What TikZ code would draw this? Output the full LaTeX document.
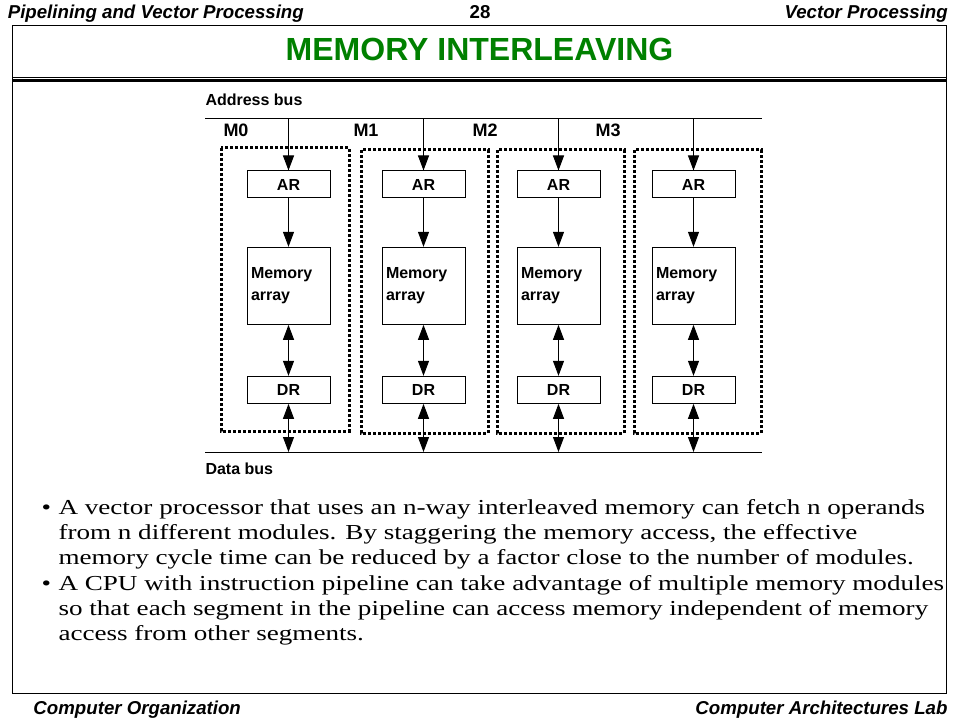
\documentclass[tikz,border=0pt]{standalone}
\usepackage{fontspec}
\setmainfont{Liberation Serif}
\setsansfont{Liberation Sans}
\newfontfamily\bodyfont{Liberation Serif}[FakeStretch=1.27]
\usepackage{tikz}
\usetikzlibrary{arrows.meta}
\usetikzlibrary{positioning}
\definecolor{titlegreen}{RGB}{0,128,0}

\begin{document}
\begin{tikzpicture}[x=0.75pt,y=-0.75pt,>={Triangle[length=11.25pt,width=8.25pt]},
				node distance=101.25pt,line width=0.75pt,
				reg/.style={draw,minimum width=62.25pt,minimum height=20.25pt,inner sep=0pt,
					font=\sffamily\bfseries\fontsize{12pt}{14pt}\selectfont},
				memarr/.style={reg,minimum height=57.75pt,text width=56.25pt,inner xsep=3pt,align=left,
					font=\sffamily\bfseries\fontsize{12pt}{16.5pt}\selectfont},
				modbox/.style={line width=2.25pt,dash pattern=on 2.25pt off 1.5pt},
				buslabel/.style={inner sep=0pt,anchor=base west,font=\sffamily\bfseries\fontsize{12pt}{14pt}\selectfont},
				modlabel/.style={inner sep=0pt,anchor=base west,font=\sffamily\bfseries\fontsize{13.5pt}{16pt}\selectfont},
				headtext/.style={inner sep=0pt,font=\sffamily\bfseries\itshape\fontsize{14pt}{16pt}\selectfont},
				bodytext/.style={inner sep=0pt,anchor=base west,align=left,font=\bodyfont\fontsize{16pt}{19pt}\selectfont}]
				\useasboundingbox (0,0) rectangle (960,720);

				% header, frame and footer
				\node[headtext,anchor=base west] (hleft) at (7.3,18.3) {Pipelining and Vector Processing};
				\node[headtext,anchor=base,font=\sffamily\bfseries\fontsize{14pt}{16pt}\selectfont] (hnum) at (480,18.3) {28};
				\node[headtext,anchor=base east] (hright) at (948.3,18.3) {Vector Processing};
				\draw (12,26) rectangle (946,693);
				\node[inner sep=0pt,anchor=base,text=titlegreen,font=\sffamily\bfseries\fontsize{24pt}{28pt}\selectfont] (title) at (479.5,60.3) {MEMORY INTERLEAVING};
				\draw (12,77.5) -- (947,77.5);
				\draw[line width=2.25pt] (12,80.7) -- (947,80.7);
				\node[headtext,anchor=base west] (fleft) at (33,714) {Computer Organization};
				\node[headtext,anchor=base east] (fright) at (948,714) {Computer Architectures Lab};

				% buses
				\coordinate (abus) at (205,119);
				\coordinate (abusend) at (762,119);
				\coordinate (dbus) at (205,452);
				\coordinate (dbusend) at (762,452);
				\draw (abus) -- (abusend);
				\draw (dbus) -- (dbusend);
				\node[buslabel] (alabel) at (205,105.7) {Address bus};
				\node[buslabel] (dlabel) at (205,474) {Data bus};

				% modules
				\node[reg] (ar0) at (288.5,184.5) {AR};
				\node[reg] (ar1) [right of=ar0] {AR};
				\node[reg] (ar2) [right of=ar1] {AR};
				\node[reg] (ar3) [right of=ar2] {AR};
				\node[memarr] (mem0) [below of=ar0,node distance=76pt] {Memory\\array};
				\node[memarr] (mem1) [below of=ar1,node distance=76pt] {Memory\\array};
				\node[memarr] (mem2) [below of=ar2,node distance=76pt] {Memory\\array};
				\node[memarr] (mem3) [below of=ar3,node distance=76pt] {Memory\\array};
				\node[reg] (dr0) [below of=mem0,node distance=78pt] {DR};
				\node[reg] (dr1) [below of=mem1,node distance=78pt] {DR};
				\node[reg] (dr2) [below of=mem2,node distance=78pt] {DR};
				\node[reg] (dr3) [below of=mem3,node distance=78pt] {DR};

				\draw[modbox] (221,148) rectangle (349,431);
				\draw[modbox] (361,150) rectangle (488,433);
				\draw[modbox] (497,150) rectangle (624,433);
				\draw[modbox] (634,150) rectangle (761,433);

				\node[modlabel] (m0) at (223,136.7) {M0};
				\node[modlabel] (m1) at (353,136.7) {M1};
				\node[modlabel] (m2) at (472,136.7) {M2};
				\node[modlabel] (m3) at (595,136.7) {M3};

					\path (ar0 |- abus) edge [->] (ar0);
					\path (ar1 |- abus) edge [->] (ar1);
					\path (ar2 |- abus) edge [->] (ar2);
					\path (ar3 |- abus) edge [->] (ar3);
					\path (ar0) edge [->] (mem0);
					\path (ar1) edge [->] (mem1);
					\path (ar2) edge [->] (mem2);
					\path (ar3) edge [->] (mem3);
					\path (mem0) edge [<->] (dr0);
					\path (mem1) edge [<->] (dr1);
					\path (mem2) edge [<->] (dr2);
					\path (mem3) edge [<->] (dr3);
					\path (dr0) edge [<->] (dr0 |- dbus);
					\path (dr1) edge [<->] (dr1 |- dbus);
					\path (dr2) edge [<->] (dr2 |- dbus);
					\path (dr3) edge [<->] (dr3 |- dbus);

				% text (base anchor is the last line)
				\node[bodytext] (b1) at (41,514) {\textbullet};
				\node[bodytext] (t1) at (58,564.7) {A vector processor that uses an n-way interleaved memory can fetch n operands\\
					from n different modules. By staggering the memory access, the effective\\
					memory cycle time can be reduced by a factor close to the number of modules.};
				\node[bodytext] (b2) at (41,590) {\textbullet};
				\node[bodytext] (t2) at (58,640.7) {A CPU with instruction pipeline can take advantage of multiple memory modules\\
					so that each segment in the pipeline can access memory independent of memory\\
					access from other segments.};
			\end{tikzpicture}
\end{document}
